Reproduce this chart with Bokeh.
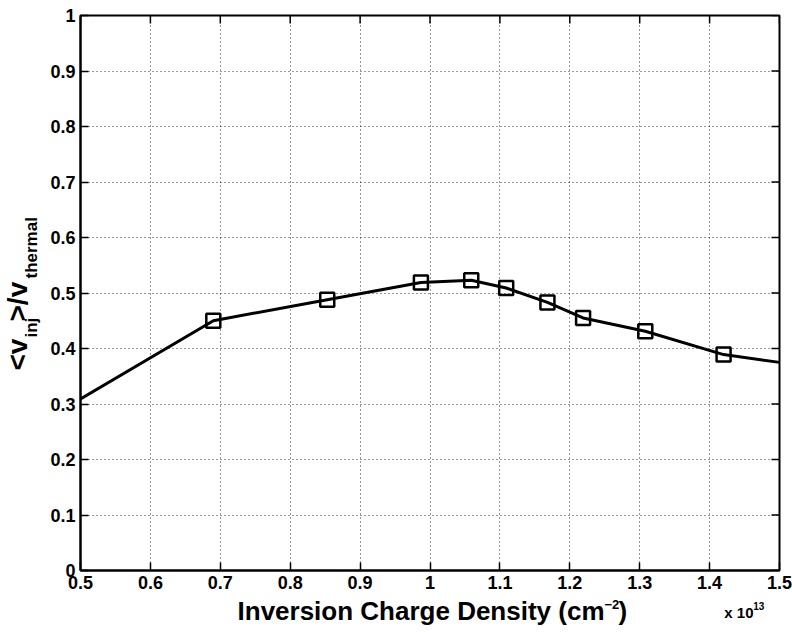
import math
from bokeh.plotting import figure
from bokeh.layouts import row, column
from bokeh.models import FixedTicker, Range1d
from bokeh.core.properties import value
from bokeh.embed import file_html
from bokeh.resources import INLINE

# Inversion charge density (units of 1e13 cm^-2) and normalized injection velocity
charge = [0.5, 0.69, 0.853, 0.987, 1.059, 1.109, 1.168, 1.219, 1.308, 1.42, 1.5]
ratio = [0.309, 0.450, 0.488, 0.519, 0.523, 0.509, 0.483, 0.455, 0.431, 0.389, 0.375]
# points that carry a square marker (simulated bias points)
marked = slice(1, 10)

x_ticks = [0.5, 0.6, 0.7, 0.8, 0.9, 1.0, 1.1, 1.2, 1.3, 1.4, 1.5]
x_tick_labels = ["0.5", "0.6", "0.7", "0.8", "0.9", "1", "1.1", "1.2", "1.3", "1.4", "1.5"]
y_ticks = [0.0, 0.1, 0.2, 0.3, 0.4, 0.5, 0.6, 0.7, 0.8, 0.9, 1.0]
y_tick_labels = ["0", "0.1", "0.2", "0.3", "0.4", "0.5", "0.6", "0.7", "0.8", "0.9", "1"]

W, H = 792, 632
LW = 45                       # strip holding the vertical title
MW, MH = W - LW, 596          # main plot
BH = H - MH                   # strip holding the horizontal title
X0, X1 = 0.5, 1.5
Y0, Y1 = 0.0, 1.0

p = figure(width=MW, height=MH, x_range=(X0, X1), y_range=(Y0, Y1),
           output_backend="svg", toolbar_location=None,
           min_border_left=35, min_border_right=13, min_border_top=15, min_border_bottom=26,
           background_fill_color="white", border_fill_color="white")

TICK_FONT = "Liberation Sans"
for ax in (p.xaxis[0], p.yaxis[0]):
    ax.major_label_text_font = TICK_FONT
    ax.major_label_text_font_style = "bold"
    ax.major_label_text_font_size = "18px"
    ax.major_label_text_color = "black"
    ax.major_tick_in = 8
    ax.major_tick_out = 0
    ax.minor_tick_in = 0
    ax.minor_tick_out = 0
    ax.axis_line_width = 2
    ax.major_tick_line_width = 1.5
    ax.axis_line_color = "black"
    ax.major_tick_line_color = "black"

p.xaxis[0].ticker = FixedTicker(ticks=x_ticks)
p.yaxis[0].ticker = FixedTicker(ticks=y_ticks)
p.xaxis[0].major_label_overrides = {t: s for t, s in zip(x_ticks, x_tick_labels)}
p.yaxis[0].major_label_overrides = {t: s for t, s in zip(y_ticks, y_tick_labels)}
p.xaxis[0].major_label_standoff = 5
p.yaxis[0].major_label_standoff = 5

p.outline_line_color = "black"
p.outline_line_width = 2

p.xgrid[0].ticker = FixedTicker(ticks=x_ticks)
p.ygrid[0].ticker = FixedTicker(ticks=y_ticks)
for g in (p.xgrid[0], p.ygrid[0]):
    g.grid_line_color = "black"
    g.grid_line_dash = "1 3"
    g.grid_line_width = 1
    g.grid_line_alpha = 0.8

# mirrored inward ticks along the top and right edges of the box
p.ray(x=x_ticks, y=[Y1] * len(x_ticks), length=8, length_units="screen",
      angle=-math.pi / 2, line_color="black", line_width=1.5)
p.ray(x=[X1] * len(y_ticks), y=y_ticks, length=8, length_units="screen",
      angle=math.pi, line_color="black", line_width=1.5)

p.line(charge, ratio, line_color="black", line_width=3)
p.scatter(charge[marked], ratio[marked], marker="square", size=14,
          fill_color=None, line_color="black", line_width=2.5)


def strip(w, h):
    # blank figure whose data coordinates are its own pixels (y up)
    f = figure(width=w, height=h, x_range=Range1d(0, w), y_range=Range1d(0, h),
               x_axis_type=None, y_axis_type=None, output_backend="svg",
               toolbar_location=None, min_border=0,
               background_fill_color="white", border_fill_color="white")
    f.outline_line_color = None
    f.grid.visible = False
    return f


NUDGE = 0.37   # em offset between the glyph anchor and the drawn baseline


def txt(f, x0, y0, px, py, text, size, style="bold", rotated=False, align="left"):
    # px, py: page pixels of the text baseline; (x0, y0): strip's top-left on the page
    if rotated:
        px -= NUDGE * size
    else:
        py -= NUDGE * size
    f.text(x=[px - x0], y=[f.height - (py - y0)], text=[text],
           angle=math.pi / 2 if rotated else 0.0,
           text_font=value("Liberation Sans"), text_font_style=style,
           text_font_size=value(f"{size}px"), text_color="black",
           text_align=align, text_baseline="alphabetic")


left = strip(LW, H)
bottom = strip(MW, BH)

# x-axis title with superscript exponent
txt(bottom, LW, MH, 605, 620, "Inversion Charge Density (cm", 26, align="right")
txt(bottom, LW, MH, 605, 609, "\u22122", 13)
txt(bottom, LW, MH, 620, 620, ")", 26)

# exponent multiplier below the axis end
txt(bottom, LW, MH, 733, 618, "x 10", 15)
txt(bottom, LW, MH, 764, 609, "13", 10)

# rotated y-axis title: <v_inj>/v_thermal
txt(left, 0, 0, 27, 370, "<v", 28, rotated=True)
txt(left, 0, 0, 37, 337, "inj", 17, rotated=True)
txt(left, 0, 0, 27, 321, ">/v", 28, rotated=True)
txt(left, 0, 0, 37, 278, "thermal", 17, rotated=True)

page = row(left, column(p, bottom, spacing=0), spacing=0)
open("out.html", "w").write(file_html(page, INLINE))
